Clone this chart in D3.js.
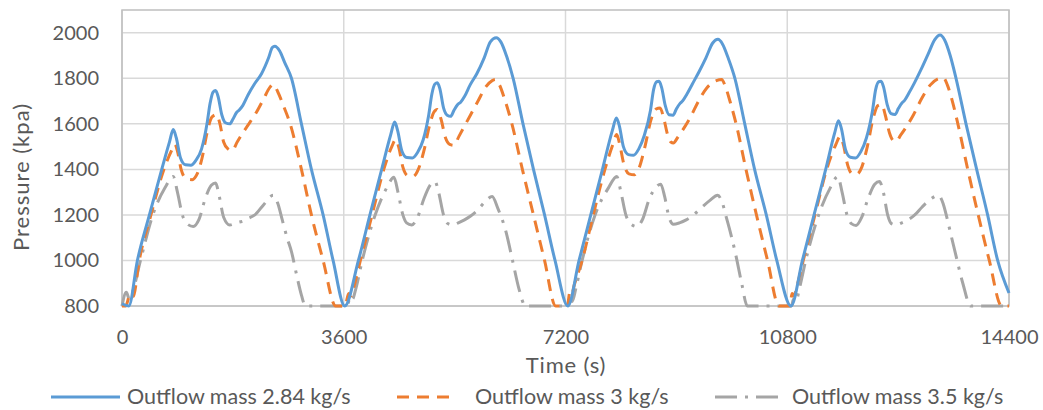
<!DOCTYPE html>
<html lang="en">
<head>
    <meta charset="UTF-8"/>
    <title>Pressure vs time</title>
    <script src="https://d3js.org/d3.v7.min.js" charset="utf-8"></script>
    <style type="text/css">
        body { margin: 0; background: #fff; }
        text { font-family: Lato, "Open Sans", sans-serif; fill: #595959; }
        .grid line { stroke: #d9d9d9; stroke-width: 1.5px; }
        path.line { fill: none; stroke-width: 3px; }
    </style>
</head>
<body>
<div id="diagram"></div>
<script type="text/javascript">

    // series names
    var seriesNames = ["Outflow mass 2.84 kg/s", "Outflow mass 3 kg/s", "Outflow mass 3.5 kg/s"];

    // tick labels
    var xTicks = [0, 3600, 7200, 10800, 14400];
    var yTicks = [800, 1000, 1200, 1400, 1600, 1800, 2000];

    // outflow 2.84 kg/s
    var timeA = [0, 110, 250, 445, 645, 770, 832, 880, 950, 1030, 1119, 1200, 1292, 1380, 1430, 1480, 1519, 1560, 1620, 1680, 1751, 1800, 1860, 1900, 1960, 2050, 2150, 2265, 2380, 2440, 2481, 2560, 2640, 2751, 2913, 3075, 3265, 3427, 3616,
        3838, 4025, 4216, 4360, 4427, 4475, 4545, 4625, 4713, 4800, 4890, 4980, 5030, 5080, 5119, 5160, 5220, 5280, 5335, 5390, 5450, 5497, 5560, 5650, 5760, 5880, 5980, 6075, 6150, 6240, 6350, 6510, 6680, 6860, 7030, 7238,
        7420, 7610, 7800, 7960, 8027, 8075, 8140, 8220, 8303, 8390, 8480, 8580, 8630, 8680, 8719, 8760, 8820, 8880, 8946, 9000, 9060, 9100, 9170, 9260, 9370, 9480, 9590, 9675, 9750, 9840, 9950, 10110, 10270, 10460, 10630, 10860,
        11046, 11235, 11424, 11570, 11632, 11680, 11745, 11825, 11908, 11995, 12085, 12185, 12235, 12285, 12324, 12365, 12425, 12485, 12551, 12605, 12665, 12705, 12775, 12865, 12975, 13085, 13195, 13281, 13355, 13445, 13540, 13702, 13875, 14053, 14216, 14400];
    var pressA = [810, 800, 1000, 1200, 1400, 1520, 1575, 1540, 1450, 1420, 1418, 1440, 1490, 1600, 1690, 1740, 1746, 1720, 1640, 1605, 1600, 1620, 1650, 1660, 1680, 1729, 1775, 1820, 1890, 1935, 1941, 1920, 1870, 1800, 1600, 1400, 1200, 1000, 800,
        1000, 1200, 1400, 1550, 1608, 1570, 1480, 1452, 1450, 1475, 1530, 1640, 1730, 1775, 1780, 1755, 1670, 1638, 1633, 1660, 1685, 1695, 1720, 1770, 1820, 1890, 1960, 1978, 1960, 1900, 1800, 1600, 1400, 1200, 1000, 800,
        1000, 1200, 1400, 1570, 1626, 1590, 1500, 1465, 1462, 1490, 1550, 1660, 1750, 1785, 1787, 1760, 1680, 1640, 1638, 1665, 1690, 1700, 1730, 1775, 1830, 1890, 1955, 1971, 1950, 1890, 1800, 1600, 1400, 1200, 1000, 800,
        1000, 1200, 1400, 1560, 1614, 1578, 1488, 1453, 1450, 1478, 1538, 1660, 1750, 1785, 1787, 1760, 1682, 1645, 1641, 1668, 1693, 1703, 1735, 1780, 1840, 1905, 1970, 1990, 1968, 1900, 1800, 1600, 1400, 1200, 1000, 857];

    // outflow 3 kg/s
    var timeB = [0, 60, 130, 180, 280, 470, 680, 800, 859, 900, 960, 1040, 1140, 1220, 1300, 1380, 1460, 1535, 1590, 1650, 1720, 1789, 1870, 1960, 2060, 2180, 2300, 2400, 2454, 2530, 2620, 2730, 2913, 3075, 3265, 3470, 3620,
        3680, 3720, 3760, 3870, 4060, 4250, 4380, 4443, 4490, 4560, 4640, 4724, 4810, 4900, 4990, 5060, 5119, 5180, 5250, 5320, 5389, 5470, 5560, 5660, 5780, 5900, 6010, 6065, 6130, 6210, 6330, 6500, 6680, 6860, 7040, 7230,
        7270, 7300, 7340, 7470, 7650, 7840, 7970, 8032, 8080, 8150, 8230, 8319, 8400, 8490, 8590, 8670, 8735, 8790, 8860, 8910, 8951, 9020, 9120, 9230, 9360, 9500, 9650, 9735, 9800, 9880, 9970, 10130, 10300, 10480, 10665, 10840,
        10880, 10910, 10960, 11060, 11250, 11440, 11590, 11659, 11710, 11780, 11850, 11929, 12010, 12100, 12200, 12270, 12335, 12390, 12460, 12520, 12567, 12640, 12740, 12850, 12980, 13120, 13270, 13335, 13400, 13480, 13570, 13730, 13900, 14080, 14281, 14400];
    var pressB = [800, 800, 850, 840, 1000, 1200, 1400, 1480, 1511, 1480, 1400, 1360, 1355, 1380, 1450, 1560, 1630, 1641, 1600, 1520, 1490, 1482, 1520, 1560, 1600, 1650, 1710, 1760, 1773, 1740, 1680, 1600, 1400, 1200, 1000, 800, 800,
        855, 845, 880, 1000, 1200, 1400, 1500, 1531, 1500, 1410, 1372, 1369, 1400, 1480, 1590, 1650, 1663, 1620, 1540, 1510, 1506, 1545, 1590, 1640, 1700, 1760, 1790, 1795, 1770, 1710, 1600, 1400, 1200, 1000, 800, 800,
        860, 850, 890, 1000, 1200, 1400, 1510, 1553, 1510, 1420, 1380, 1376, 1410, 1500, 1620, 1665, 1670, 1630, 1550, 1520, 1516, 1540, 1580, 1630, 1700, 1760, 1790, 1795, 1760, 1690, 1600, 1400, 1200, 1000, 800, 800,
        855, 845, 890, 1000, 1200, 1400, 1510, 1545, 1510, 1420, 1382, 1379, 1410, 1500, 1630, 1680, 1685, 1640, 1560, 1527, 1523, 1550, 1590, 1640, 1710, 1770, 1800, 1802, 1770, 1700, 1600, 1400, 1200, 1000, 800, 800];

    // outflow 3.5 kg/s
    var timeC = [0, 70, 120, 170, 300, 500, 700, 832, 900, 980, 1060, 1157, 1250, 1350, 1450, 1519, 1580, 1650, 1751, 1850, 1950, 2050, 2157, 2300, 2454, 2530, 2600, 2680, 2751, 2840, 2913, 2978, 3660,
        3700, 3740, 3800, 3900, 4110, 4300, 4416, 4480, 4560, 4620, 4703, 4800, 4900, 5000, 5081, 5140, 5220, 5290, 5362, 5460, 5560, 5660, 5770, 5900, 6010, 6100, 6230, 6340, 6440, 6551, 7240,
        7270, 7310, 7370, 7470, 7680, 7900, 8032, 8100, 8180, 8260, 8357, 8450, 8560, 8680, 8746, 8810, 8880, 8951, 9050, 9160, 9280, 9400, 9550, 9670, 9750, 9810, 9880, 9960, 10060, 10151, 10870,
        10900, 10940, 11000, 11100, 11310, 11500, 11621, 11690, 11770, 11840, 11918, 12010, 12110, 12220, 12297, 12360, 12430, 12490, 12567, 12660, 12760, 12870, 12990, 13130, 13254, 13330, 13390, 13460, 13540, 13650, 13778, 14400];
    var pressC = [800, 860, 830, 860, 1000, 1200, 1320, 1369, 1300, 1200, 1160, 1149, 1180, 1270, 1330, 1340, 1280, 1190, 1156, 1165, 1172, 1185, 1200, 1245, 1286, 1250, 1180, 1100, 1039, 930, 848, 800, 800,
        840, 830, 880, 1000, 1200, 1320, 1365, 1300, 1200, 1165, 1156, 1190, 1270, 1330, 1347, 1300, 1200, 1162, 1156, 1165, 1178, 1195, 1220, 1260, 1281, 1230, 1130, 1000, 880, 800, 800,
        830, 820, 880, 1000, 1200, 1320, 1369, 1300, 1200, 1160, 1149, 1180, 1270, 1325, 1335, 1280, 1190, 1159, 1165, 1178, 1200, 1230, 1265, 1286, 1250, 1190, 1120, 1030, 900, 800, 800,
        830, 820, 880, 1000, 1200, 1320, 1369, 1300, 1200, 1162, 1154, 1190, 1270, 1335, 1347, 1300, 1200, 1162, 1156, 1165, 1178, 1200, 1235, 1270, 1286, 1250, 1190, 1110, 1020, 900, 800, 800];

    var colors = ["#5b9bd5", "#ed7d31", "#a5a5a5"];
    var dashes = ["none", "12,8", "22,8,3,8"];

    var series = [
        {name: seriesNames[0], t: timeA, p: pressA},
        {name: seriesNames[1], t: timeB, p: pressB},
        {name: seriesNames[2], t: timeC, p: pressC}
    ];

    var totalW = 1043, totalH = 410;
    var margin = {top: 10, right: 34, bottom: 104, left: 122},
        width = totalW - margin.left - margin.right,
        height = totalH - margin.top - margin.bottom;

    var svg = d3.select("#diagram")
        .append("svg")
        .attr("width", totalW)
        .attr("height", totalH);

    var g = svg.append("g")
        .attr("transform", "translate(" + margin.left + "," + margin.top + ")");

    var x = d3.scaleLinear().domain([0, 14400]).range([0, width]);
    var y = d3.scaleLinear().domain([800, 2100]).range([height, 0]);

    // gridlines
    var grid = g.append("g").attr("class", "grid");
    grid.selectAll("line.h")
        .data(yTicks)
        .enter()
        .append("line")
        .attr("x1", 0).attr("x2", width)
        .attr("y1", function(d) { return y(d); })
        .attr("y2", function(d) { return y(d); });
    grid.selectAll("line.v")
        .data(xTicks)
        .enter()
        .append("line")
        .attr("x1", function(d) { return x(d); })
        .attr("x2", function(d) { return x(d); })
        .attr("y1", 0).attr("y2", height);

    // plot border
    g.append("rect")
        .attr("width", width)
        .attr("height", height)
        .attr("fill", "none")
        .attr("stroke", "#bfbfbf")
        .attr("stroke-width", 1.5);

    // axes (labels only, Excel style)
    var xAxis = g.append("g")
        .attr("transform", "translate(0," + height + ")")
        .call(d3.axisBottom(x).tickValues(xTicks).tickSize(0).tickPadding(24).tickFormat(d3.format("d")));
    var yAxis = g.append("g")
        .call(d3.axisLeft(y).tickValues(yTicks).tickSize(0).tickPadding(23).tickFormat(d3.format("d")));
    [xAxis, yAxis].forEach(function(a) {
        a.select(".domain").remove();
        a.selectAll("text").style("font-size", "20px").attr("fill", "#595959");
    });

    var line = d3.line()
        .x(function(d) { return x(d[0]); })
        .y(function(d) { return y(d[1]); })
        .curve(d3.curveMonotoneX);

    // draw gray first so blue is on top
    series.slice().reverse().forEach(function(s) {
        var i = series.indexOf(s);
        g.append("path")
            .datum(d3.zip(s.t, s.p))
            .attr("class", "line")
            .attr("d", line)
            .attr("stroke", colors[i])
            .attr("stroke-dasharray", dashes[i]);
    });

    // axis titles
    svg.append("text")
        .attr("x", 566)
        .attr("y", 373)
        .attr("text-anchor", "middle")
        .style("font-size", "22px")
        .style("letter-spacing", "0.8px")
        .text("Time (s)");

    svg.append("text")
        .attr("transform", "translate(29,177)rotate(-90)")
        .attr("text-anchor", "middle")
        .style("font-size", "22px")
        .style("letter-spacing", "1px")
        .text("Pressure (kpa)");

    // legend
    var legendX = [51, 397, 715];
    var legendLen = [69, 58, 70];
    var legend = svg.selectAll("g.legend")
        .data(series)
        .enter()
        .append("g")
        .attr("transform", function(d, i) { return "translate(" + legendX[i] + ",397)"; });
    legend.append("line")
        .attr("x1", 0)
        .attr("x2", function(d, i) { return legendLen[i]; })
        .attr("y1", 0).attr("y2", 0)
        .attr("stroke", function(d, i) { return colors[i]; })
        .attr("stroke-width", 3)
        .attr("stroke-dasharray", function(d, i) { return dashes[i]; });
    legend.append("text")
        .attr("x", function(d, i) { return legendLen[i] + (i === 1 ? 20 : 7); })
        .attr("y", 7)
        .style("font-size", "21.5px")
        .text(function(d) { return d.name; });

</script>
</body>
</html>
